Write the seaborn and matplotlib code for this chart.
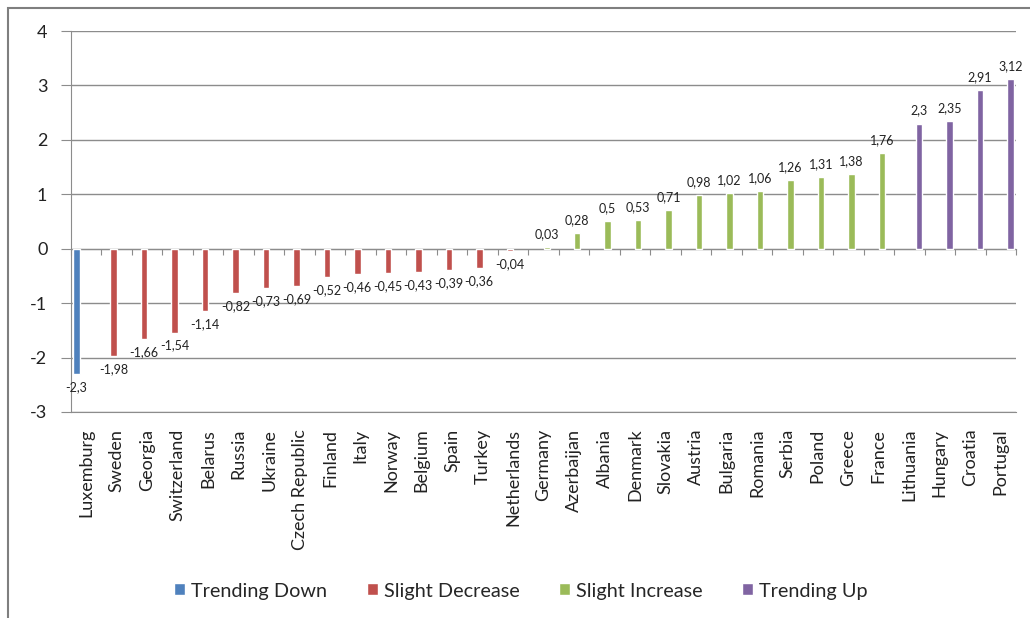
import numpy as np
import pandas as pd
import seaborn as sns
import matplotlib.pyplot as plt
from matplotlib.patches import Rectangle

# --- Data ---
countries = ['Luxemburg', 'Sweden', 'Georgia', 'Switzerland', 'Belarus', 'Russia',
             'Ukraine', 'Czech Republic', 'Finland', 'Italy', 'Norway', 'Belgium',
             'Spain', 'Turkey', 'Netherlands', 'Germany', 'Azerbaijan', 'Albania',
             'Denmark', 'Slovakia', 'Austria', 'Bulgaria', 'Romania', 'Serbia',
             'Poland', 'Greece', 'France', 'Lithuania', 'Hungary', 'Croatia', 'Portugal']
values = [-2.3, -1.98, -1.66, -1.54, -1.14, -0.82, -0.73, -0.69, -0.52, -0.46, -0.45,
          -0.43, -0.39, -0.36, -0.04, 0.03, 0.28, 0.5, 0.53, 0.71, 0.98, 1.02, 1.06,
          1.26, 1.31, 1.38, 1.76, 2.3, 2.35, 2.91, 3.12]
trends = (['Trending Down'] + ['Slight Decrease'] * 14 + ['Slight Increase'] * 12
          + ['Trending Up'] * 4)

trend_order = ['Trending Down', 'Slight Decrease', 'Slight Increase', 'Trending Up']
trend_colors = ['#4F81BD', '#C0504D', '#9BBB59', '#8064A2']

df = pd.DataFrame({'country': countries, 'change': values, 'trend': trends})

# --- Style ---
sns.set_style('white')
plt.rcParams['font.family'] = ['Lato', 'DejaVu Sans']
plt.rcParams['axes.unicode_minus'] = False
grey = '#8c8c8c'

fig = plt.figure(figsize=(10.3, 6.18), dpi=100)
ax = fig.add_axes([71 / 1030, 1 - 412 / 618, (1016 - 71) / 1030, (412 - 31) / 618])

sns.barplot(data=df, x='country', y='change', hue='trend', hue_order=trend_order,
            palette=trend_colors, order=countries, dodge=True, width=0.85,
            saturation=1, ax=ax)

# value labels with comma decimals
for cont in ax.containers:
    ax.bar_label(cont, fmt=lambda v: f'{v:g}'.replace('.', ','), padding=5,
                 fontsize=9, color='#222222')

ax.set_ylim(-3, 4)
ax.set_yticks(range(-3, 5))
ax.set_xlim(-0.5, len(countries) - 0.5)
ax.set_xlabel('')
ax.set_ylabel('')
ax.yaxis.grid(True, color=grey, lw=1)
ax.set_axisbelow(True)

for side in ['top', 'right']:
    ax.spines[side].set_visible(False)
for side in ['left', 'bottom']:
    ax.spines[side].set_color(grey)

ax.tick_params(axis='y', length=7, color=grey, labelsize=13, pad=10,
               labelcolor='#222222', left=True)
ax.tick_params(axis='x', length=0, labelsize=13, pad=12, labelcolor='#222222',
               labelrotation=90)

# category axis crossing at zero, tick marks between categories
zero_ax = ax.secondary_xaxis(3 / 7)
zero_ax.set_xticks(np.arange(len(countries) + 1) - 0.5)
zero_ax.set_xticklabels([])
zero_ax.tick_params(length=4, color=grey, direction='out')
zero_ax.spines['bottom'].set_color(grey)

sns.move_legend(ax, 'center', bbox_to_anchor=(521 / 1030, 1 - 591 / 618),
                bbox_transform=fig.transFigure, ncol=4, frameon=False, title=None,
                fontsize=14.3, handlelength=0.55, handleheight=0.55, handletextpad=0.3,
                columnspacing=2.0)

# outer chart frame
fig.patches.append(Rectangle((8 / 1030, -0.1), 1.2, 1.1 - 8 / 618, fill=False,
                             edgecolor='#7f7f7f', lw=1.5, transform=fig.transFigure))

fig.savefig('out.png', dpi=100)
